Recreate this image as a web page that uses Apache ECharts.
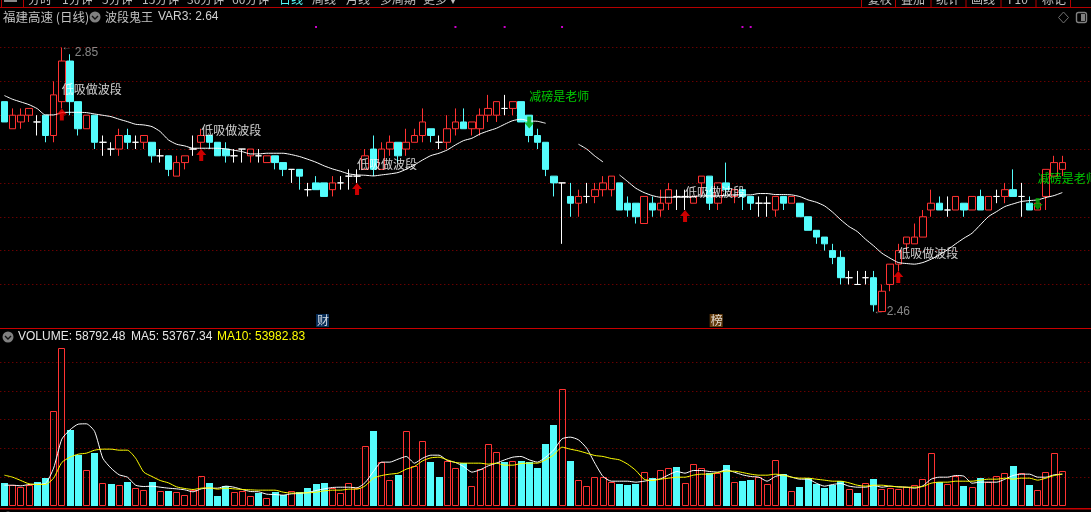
<!DOCTYPE html>
<html><head><meta charset="utf-8">
<style>html,body{margin:0;padding:0;background:#000;overflow:hidden}#c{width:1091px;height:512px}</style>
<script src="https://cdn.jsdelivr.net/npm/echarts@6/dist/echarts.min.js"></script>
</head><body><div id="c"></div>
<script>
// candles: [open, close, low, high]
const candles=[[2.77,2.74,2.74,2.77],[2.73,2.75,2.73,2.76],[2.74,2.75,2.73,2.76],[2.75,2.76,2.74,2.76],[2.74,2.74,2.72,2.75],[2.75,2.72,2.71,2.75],[2.72,2.78,2.71,2.80],[2.77,2.83,2.76,2.85],[2.83,2.77,2.75,2.84],[2.77,2.73,2.72,2.77],
[2.73,2.75,2.73,2.75],[2.75,2.71,2.70,2.75],[2.71,2.71,2.69,2.72],[2.70,2.70,2.69,2.71],[2.70,2.72,2.69,2.73],[2.72,2.71,2.70,2.73],[2.71,2.71,2.70,2.72],[2.71,2.72,2.70,2.72],[2.71,2.69,2.68,2.71],[2.69,2.69,2.68,2.70],
[2.69,2.67,2.66,2.69],[2.66,2.68,2.66,2.69],[2.68,2.69,2.67,2.69],[2.70,2.70,2.69,2.72],[2.71,2.72,2.70,2.73],[2.72,2.71,2.70,2.72],[2.71,2.69,2.69,2.71],[2.70,2.69,2.68,2.71],[2.69,2.69,2.68,2.70],[2.70,2.70,2.68,2.70],
[2.69,2.70,2.68,2.70],[2.69,2.69,2.68,2.70],[2.68,2.69,2.68,2.69],[2.69,2.68,2.67,2.69],[2.68,2.67,2.66,2.68],[2.67,2.67,2.65,2.67],[2.67,2.66,2.64,2.67],[2.64,2.64,2.63,2.65],[2.65,2.64,2.64,2.66],[2.65,2.63,2.63,2.65],
[2.64,2.65,2.63,2.66],[2.65,2.65,2.64,2.66],[2.66,2.66,2.64,2.67],[2.66,2.66,2.65,2.67],[2.67,2.69,2.67,2.70],[2.70,2.67,2.66,2.72],[2.67,2.70,2.67,2.71],[2.70,2.71,2.69,2.72],[2.71,2.69,2.68,2.71],[2.70,2.71,2.69,2.73],
[2.71,2.72,2.71,2.73],[2.72,2.74,2.71,2.76],[2.73,2.72,2.71,2.73],[2.71,2.71,2.70,2.72],[2.71,2.73,2.70,2.75],[2.73,2.74,2.72,2.76],[2.74,2.73,2.73,2.76],[2.73,2.74,2.72,2.74],[2.73,2.75,2.72,2.76],[2.75,2.76,2.74,2.78],
[2.75,2.77,2.74,2.77],[2.76,2.76,2.75,2.78],[2.76,2.77,2.75,2.77],[2.77,2.74,2.74,2.77],[2.75,2.72,2.71,2.75],[2.72,2.71,2.70,2.73],[2.71,2.67,2.66,2.71],[2.66,2.65,2.63,2.66],[2.65,2.65,2.56,2.65],[2.63,2.62,2.60,2.65],
[2.62,2.63,2.60,2.64],[2.63,2.63,2.62,2.65],[2.63,2.64,2.62,2.65],[2.64,2.65,2.63,2.66],[2.64,2.66,2.63,2.66],[2.65,2.61,2.61,2.65],[2.62,2.61,2.60,2.63],[2.62,2.60,2.59,2.62],[2.59,2.63,2.59,2.63],[2.62,2.61,2.60,2.63],
[2.61,2.62,2.60,2.64],[2.62,2.64,2.61,2.65],[2.63,2.63,2.61,2.64],[2.63,2.63,2.61,2.64],[2.62,2.63,2.62,2.63],[2.65,2.66,2.63,2.66],[2.66,2.62,2.61,2.66],[2.62,2.65,2.61,2.65],[2.65,2.64,2.63,2.68],[2.63,2.64,2.62,2.64],
[2.64,2.63,2.61,2.64],[2.63,2.62,2.61,2.63],[2.62,2.62,2.60,2.63],[2.62,2.62,2.60,2.63],[2.61,2.63,2.60,2.63],[2.63,2.62,2.61,2.63],[2.62,2.63,2.62,2.63],[2.62,2.60,2.60,2.62],[2.60,2.58,2.58,2.60],[2.58,2.57,2.56,2.58],
[2.57,2.56,2.55,2.57],[2.55,2.54,2.53,2.56],[2.54,2.51,2.50,2.55],[2.51,2.51,2.50,2.52],[2.50,2.50,2.50,2.52],[2.51,2.51,2.50,2.52],[2.51,2.47,2.46,2.52],[2.46,2.49,2.46,2.50],[2.50,2.53,2.49,2.53],[2.53,2.55,2.52,2.56],
[2.56,2.57,2.55,2.57],[2.56,2.57,2.56,2.59],[2.57,2.60,2.57,2.61],[2.61,2.62,2.60,2.64],[2.62,2.61,2.61,2.63],[2.61,2.61,2.60,2.63],[2.61,2.63,2.61,2.63],[2.62,2.61,2.60,2.62],[2.61,2.63,2.61,2.63],[2.63,2.61,2.61,2.64],
[2.61,2.63,2.61,2.63],[2.63,2.63,2.62,2.64],[2.63,2.64,2.62,2.65],[2.64,2.63,2.63,2.67],[2.63,2.63,2.60,2.65],[2.62,2.61,2.61,2.63],[2.61,2.62,2.61,2.62],[2.63,2.67,2.61,2.67],[2.66,2.68,2.66,2.69],[2.67,2.68,2.66,2.69]];
// white trend line on the price panel (gaps where the indicator is not drawn)
const trendLine=[2.779,2.7735,2.7696,2.7656,2.7597,2.7504,2.7504,2.7538,2.7543,2.7543,2.7538,2.7518,2.7499,2.7479,2.744,2.7405,2.7366,2.7356,2.7331,2.7258,
2.7135,2.7071,2.7046,2.7012,2.7012,2.7012,2.7012,2.7002,2.6982,2.6962,2.6928,2.6928,2.6938,2.6938,2.6938,2.6918,2.6889,2.6849,2.6805,2.6751,
2.6707,2.6672,2.6633,2.6618,2.6613,2.6603,2.6618,2.6633,2.6653,2.6702,2.6766,2.6839,2.6903,2.6938,2.6987,2.7061,2.7125,2.7159,2.7223,2.7268,
2.7307,2.7366,2.742,2.744,2.7415,2.741,2.7381,null,null,null,2.7071,2.70,2.6897,2.6809,null,2.6618,2.652,2.6421,2.6357,2.6313,
2.6288,2.6288,2.6288,2.6288,2.6298,2.6308,2.6308,2.6308,2.6318,2.6323,2.6323,2.6323,2.6343,2.6343,2.6328,2.6328,2.6323,2.6298,2.6249,2.6215,
2.6161,2.6067,2.5954,2.5855,2.5782,2.5669,2.557,2.5462,2.5388,2.5324,2.5309,2.53,2.5324,2.5373,2.5437,2.5511,2.56,2.5683,2.5757,2.588,
2.6003,2.6077,2.6151,2.619,2.6225,2.6239,2.6249,2.6284,2.6313,2.6357];
// volume (thousands) and bar colour: r hollow red, c solid cyan
const volume=[39.6,35.5,32.6,36.1,41.4,48.4,164.9,275,132.3,88.6,61.8,92.1,39,37.9,35.5,41.4,30.3,26.8,41.4,25.1,
25.6,23.3,18.1,27.4,51.3,39.6,16.9,34.4,23.3,25.1,16.9,22.1,12.8,23.9,18.6,25.1,23.9,30.9,37.9,39.6,
30.9,21.6,39,30.9,103.7,130.5,75.8,44.3,53.6,129.9,69.3,112.5,76.3,50.1,78.1,65.3,74,33.8,63.5,107.2,
93.2,76.3,78.1,78.1,76.3,65.8,107.8,141,203.4,78.1,44.3,33.8,49.5,49.5,40.8,37.9,36.1,37.9,58.3,48.4,
61.8,65.3,67.6,39,72.3,65.3,56.5,56.5,71.1,40.8,43.1,44.9,50.1,37.3,79.2,54.8,25.1,32.6,48.4,37.9,
30.9,35.5,43.1,28.6,22.1,39,46.6,28.6,30.3,28.6,32,35.5,46,91.5,41.4,37.3,51.9,34.4,32,48.4,
41.4,51.3,56.5,69.3,56.5,36.1,26.8,58.3,91.5,60];
const volumeSide="crrrccrrccrcrcrcrrcrcrrrrcccrrrcrccrccccrrrrrcrrcrrrccrrcrrrrcrcccccrcrrrrrcccrcrrcrrrcrcrccrrrcrccccccrcrcrrrrrrrcrrcrcrrrcrcrrrr";
const ma5=[35.5,35.5,34.4,36.7,37.3,38.5,65.3,116,132.3,142.2,142.8,129.4,82.7,65.3,53.6,49.5,35.5,33.2,33.8,32,
30.3,29.1,27.4,23.9,29.1,30.3,30.3,33.8,32,28,24.5,23.9,19.8,19.2,18.1,20.4,21,22.7,26.2,29.1,
31.5,32,32,30.9,40.2,59.4,75.8,75.8,81,85.7,74,82.7,88,88,78.7,75.2,68.2,58.3,62.3,69.3,
74,79.8,84.5,85.7,79.8,75.8,84.5,97.3,116.5,119.5,114.8,100.2,74,50.7,42.5,42.5,42.5,40.8,42.5,44.9,
46.6,53.6,59.4,56.5,61.2,61.2,59.4,58.3,62.3,58.3,53.6,50.7,49.5,42.5,50.7,53.6,49.5,46,46,39,
33.8,36.7,38.5,33.8,32,32,35,32,33.8,32.6,32,30.3,34.4,46,49.5,49.5,52.4,51.3,39,40.8,
40.8,40.8,46,52.4,54.8,54.8,49.5,49.5,53.6,54.8];
const ma10=[53,49.5,43.7,37.9,36.7,36.7,47.8,75.2,84.5,89.7,91.5,96.7,98.5,98.5,96.7,96.7,82.7,58.3,50.7,43.7,
39.6,32.6,29.7,28,30.3,30.9,28.6,30.3,29.1,28,27.4,26.8,26.8,26.8,23.3,21.6,22.1,22.1,23.3,25.6,
26.8,26.8,28.6,28.6,34.4,47.8,52.4,54.8,56.5,63.5,68.2,78.1,83.3,84.5,79.8,75.2,74,74,74,72.3,
74,70.5,70.5,73.4,74,74,79.8,88.6,102,98.5,95.6,91.5,87.4,85.7,82.2,79.8,72.3,61.2,46,43.7,
46,47.8,49.5,49.5,53,54.8,54.8,57.7,60,60,57.7,54.8,53,53,54.8,53,49.5,47.8,47.8,46,
44.3,42.5,42.5,39.6,35.5,33.8,35.5,35.5,33.8,32.6,32,32,33.2,39,40.8,40.8,42.5,42.5,42.5,44.3,
46,46,47.8,46,47.8,47.8,44.3,47.8,52.4,54.8];
// dotted price and volume levels
const priceLevels=[2.85,2.80,2.75,2.70,2.65,2.60,2.55,2.50];
const volumeLevels=[50,100,150,200,250];
// signals: [candle index, price]
const buyArrows=[[7,2.76],[24,2.70],[43,2.65],[83,2.61],[109,2.52]];
const sellArrows=[[64,2.7392],[126,2.6188]];
const buyLabels=[[7,2.7887],[24,2.7281],[43,2.678],[83,2.6366],[109,2.5465]];
const sellLabels=[[64,2.7784],[126,2.6572]];
const dots=[[38,2.8803],[55,2.8803],[61,2.8803],[68,2.8803],[90,2.8803],[91,2.8803]];
const extremes=[[7,2.85,'2.85'],[106,2.46,'2.46']];
const badges=[[39,2.4468,'财','#0b3a6e'],[87,2.4468,'榜','#7a4a10']];
const buyText='低吸做波段', sellText='减磅是老师';
const tabsLeft=[['分时',28],['1分钟',62],['5分钟',102],['15分钟',142],['30分钟',187],['60分钟',232],['日线',279],['周线',312],['月线',346],['多周期',380],['更多 ▾',423]];
const tabsRight=[['复权',868],['叠加',901],['统计',936],['画线',971],['F10',1008],['标记',1042]];
const tabSeparators=[23,861,895,930.5,965.5,1000.5,1035.5,1070];

const categories=Array.from({length:133},(_,i)=>String(i+1));
const CYAN='#54fcfc',RED='#ff3232',DOT='#960000',FRAME='#b40000';
const CJK='"Noto Sans CJK SC","Liberation Sans",sans-serif', LAT='"Liberation Sans","Noto Sans CJK SC",sans-serif';
const clear='rgba(0,0,0,0)';
const arrowUp='path://M5 0L10 6L7 6L7 12L3 12L3 6L0 6Z';
const arrowDown='path://M3 0L7 0L7 6L10 6L5 12L0 6L3 6Z';
const xa=g=>({type:'category',gridIndex:g,data:categories,boundaryGap:true,axisLine:{show:false},axisTick:{show:false},axisLabel:{show:false},splitLine:{show:false}});
const split={show:true,lineStyle:{color:DOT,width:1,type:[1,3]}};

const txt=(text,x,y,fill,font)=>({type:'text',x,y,silent:true,style:{text,fill,font:font||('12px '+CJK),verticalAlign:'middle',align:'left'}});
const rect=(x,y,w,h,fill)=>({type:'rect',silent:true,shape:{x,y,width:w,height:h},style:{fill}});
const chevron=(x,y)=>[{type:'circle',silent:true,shape:{cx:x,cy:y,r:5.5},style:{fill:'#808080'}},
  {type:'polyline',silent:true,shape:{points:[[x-3,y-1],[x,y+2],[x+3,y-1]]},style:{stroke:'#111',fill:null,lineWidth:1.4}}];
const graphics=[
  rect(0,7,1091,1,FRAME),rect(0,328,1091,1,'#c80000'),rect(0,508,1091,1.5,'#c80000'),
  ...tabSeparators.map(x=>rect(x,0,1,7,FRAME)),rect(1,0,1,7,FRAME),rect(4,0,13,2,'#888'),
  ...tabsLeft.map(t=>txt(t[0],t[1],-1,t[0]==='日线'?CYAN:'#c0c0c0')),
  ...tabsRight.map(t=>txt(t[0],t[1],-1,'#c0c0c0')),
  txt('福建高速 (日线)',3,17,'#c0c0c0','12.5px '+CJK),
  ...chevron(95,17),
  txt('波段鬼王',105,17,'#c0c0c0','12px '+CJK),
  txt('VAR3: 2.64',158,17,'#d0d0d0','12px '+LAT),
  ...chevron(8,337),
  txt('VOLUME: 58792.48',18,337,'#e6e6e6','12px '+LAT),
  txt('MA5: 53767.34',131,337,'#e6e6e6','12px '+LAT),
  txt('MA10: 53982.83',217,337,'#ffff00','12px '+LAT),
  ...chevron(8,517),
  {type:'polygon',silent:true,shape:{points:[[1063.5,12],[1068.5,17.5],[1063.5,23],[1058.5,17.5]]},style:{fill:null,stroke:'#707070',lineWidth:1}},
  {type:'rect',silent:true,shape:{x:1076.5,y:12.5,width:10,height:10,r:2},style:{fill:null,stroke:'#808080',lineWidth:1.4}},
  rect(1081,14,4,7,'#808080')
];
const labelSeries=(pts,text,color)=>({type:'scatter',xAxisIndex:0,yAxisIndex:0,data:pts,symbolSize:0,silent:true,z:8,
  label:{show:true,position:'right',distance:0,formatter:text,color,fontSize:12,fontFamily:CJK}});
const renderVolume=(params,api)=>{
  const i=api.value(0),top=api.coord([i,api.value(1)]),base=api.coord([i,0]);
  const bw=7,x0=Math.round(top[0]-bw/2),y0=Math.round(top[1]),y1=Math.round(base[1]);
  return volumeSide[i]==='r'
    ? {type:'rect',shape:{x:x0+0.5,y:y0+0.5,width:bw-1,height:y1-y0-1},style:{fill:clear,stroke:RED,lineWidth:1}}
    : {type:'rect',shape:{x:x0,y:y0,width:bw,height:y1-y0},style:{fill:CYAN}};
};

const option={
  backgroundColor:'#000',animation:false,tooltip:{show:false},
  grid:[{left:0.3,width:1090.7,top:7,height:321,show:false},{left:0.3,width:1090.7,top:330,height:175.5,show:false}],
  xAxis:[xa(0),xa(1)],
  yAxis:[
    {type:'value',gridIndex:0,min:2.4357,max:2.9098,scale:true,axisLine:{show:false},axisLabel:{show:false},axisTick:{show:false,customValues:priceLevels},splitLine:split},
    {type:'value',gridIndex:1,min:0,max:306.8,axisLine:{show:false},axisLabel:{show:false},axisTick:{show:false,customValues:volumeLevels},splitLine:split}
  ],
  graphic:{elements:graphics},
  series:[
    {type:'candlestick',xAxisIndex:0,yAxisIndex:0,data:candles,barWidth:7,silent:true,z:3,
      itemStyle:{color:clear,color0:CYAN,borderColor:RED,borderColor0:CYAN,borderColorDoji:'#fff',borderWidth:1}},
    {type:'line',xAxisIndex:0,yAxisIndex:0,data:trendLine,showSymbol:false,silent:true,connectNulls:false,smooth:0.2,z:4,lineStyle:{color:'#fff',width:1}},
    {type:'scatter',xAxisIndex:0,yAxisIndex:0,data:buyArrows,symbol:arrowUp,symbolSize:[10,12],symbolOffset:[0,'50%'],silent:true,z:7,itemStyle:{color:'#ff0000'}},
    {type:'scatter',xAxisIndex:0,yAxisIndex:0,data:sellArrows,symbol:arrowDown,symbolSize:[10,12],silent:true,z:7,itemStyle:{color:'#00a800'}},
    {type:'scatter',xAxisIndex:0,yAxisIndex:0,data:dots,symbol:'rect',symbolSize:2,silent:true,z:5,itemStyle:{color:'#ff00ff'}},
    labelSeries(buyLabels,buyText,'#ffffff'),
    labelSeries(sellLabels,sellText,'#00ff00'),
    {type:'scatter',xAxisIndex:0,yAxisIndex:0,data:extremes.map(e=>({value:[e[0],e[1]],name:e[2]})),symbolSize:0,silent:true,z:8,
      label:{show:true,position:'right',distance:0,formatter:p=>p.name,color:'#a8a8a8',fontSize:12,fontFamily:LAT},
      labelLayout:p=>({dx:13,dy:p.dataIndex===0?5:0})},
    {type:'scatter',xAxisIndex:0,yAxisIndex:0,data:extremes.map(e=>[e[0],e[1]]),symbolSize:0,silent:true,z:8,
      label:{show:true,position:'right',distance:0,formatter:'←',color:'#a8a8a8',fontSize:10,fontFamily:LAT}},
    {type:'scatter',xAxisIndex:0,yAxisIndex:0,silent:true,z:8,symbolSize:0,
      data:badges.map(b=>({value:[b[0],b[1]],name:b[2],label:{backgroundColor:b[3]}})),
      label:{show:true,position:'inside',offset:[-1.7,0],formatter:p=>p.name,color:'#fff',fontSize:12,fontFamily:CJK,padding:[1,0,0,1],lineHeight:12}},
    {type:'custom',xAxisIndex:1,yAxisIndex:1,silent:true,z:3,clip:false,
      data:volume.map((v,i)=>[i,v]),encode:{x:0,y:1},renderItem:renderVolume},
    {type:'line',xAxisIndex:1,yAxisIndex:1,data:ma5,showSymbol:false,silent:true,smooth:0.2,z:4,lineStyle:{color:'#fff',width:1}},
    {type:'line',xAxisIndex:1,yAxisIndex:1,data:ma10,showSymbol:false,silent:true,smooth:0.2,z:5,lineStyle:{color:'#ffff00',width:1}}
  ]
};
echarts.init(document.getElementById('c'),null,{renderer:'canvas'}).setOption(option);
</script></body></html>
